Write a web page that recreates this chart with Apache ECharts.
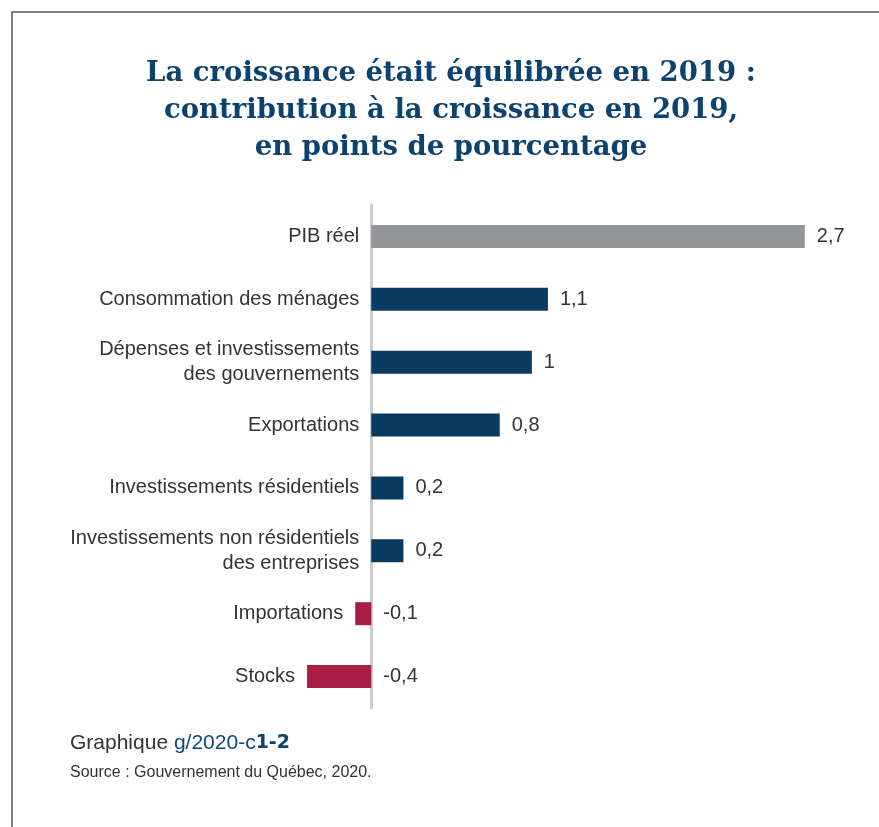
<!DOCTYPE html>
<html>
<head>
<meta charset="utf-8">
<script src="https://cdn.jsdelivr.net/npm/echarts@6/dist/echarts.min.js"></script>
<style>
html,body{margin:0;padding:0;background:#fff;}
#chart{width:879px;height:827px;}
</style>
</head>
<body>
<div id="chart"></div>
<script>
var titleLines = ['La croissance était équilibrée en 2019 :', 'contribution à la croissance en 2019,', 'en points de pourcentage'];
var categories = ['PIB réel', 'Consommation des ménages', 'Dépenses et investissements\ndes gouvernements', 'Exportations', 'Investissements résidentiels', 'Investissements non résidentiels\ndes entreprises', 'Importations', 'Stocks'];
var values = [2.7, 1.1, 1, 0.8, 0.2, 0.2, -0.1, -0.4];
var footerLabel = 'Graphique ';
var footerCode = 'g/2020-c';
var footerNum = '1-2';
var sourceText = 'Source : Gouvernement du Québec, 2020.';

var chart = echarts.init(document.getElementById('chart'), null, {renderer: 'canvas'});
function fmt(v){ return String(v).replace('.', ','); }
function barColor(p){
  if (p.dataIndex === 0) return '#939598';
  return p.value < 0 ? '#a91e44' : '#0a3a5f';
}
var option = {
  animation: false,
  backgroundColor: '#fff',
  grid: {left: 291, right: 26, top: 205, bottom: 119, containLabel: false},
  xAxis: {
    type: 'value', min: -0.5, max: 3,
    axisLabel: {show: false}, axisTick: {show: false}, axisLine: {show: false}, splitLine: {show: false}
  },
  yAxis: {
    type: 'category', data: categories, inverse: true,
    axisLabel: {show: false}, axisTick: {show: false},
    axisLine: {show: true, onZero: true, lineStyle: {color: '#cccccc', width: 3}}
  },
  series: [
    {
      type: 'bar', data: values, barWidth: 23, z: 1,
      itemStyle: {color: barColor},
      label: {
        show: true, position: 'right', distance: 12,
        fontFamily: 'Liberation Sans', fontSize: 20, color: '#333',
        formatter: function(p){ return fmt(p.value); }
      }
    },
    {
      type: 'bar', data: values, barWidth: 23, barGap: '-100%', z: 0,
      itemStyle: {color: 'rgba(0,0,0,0)'},
      label: {
        show: true, position: 'left', distance: 12,
        fontFamily: 'Liberation Sans', fontSize: 20, color: '#333', align: 'right', lineHeight: 25,
        formatter: function(p){ return categories[p.dataIndex]; }
      }
    }
  ],
  graphic: [
    {type: 'rect', shape: {x: 12, y: 12, width: 900, height: 900}, style: {fill: 'none', stroke: '#555', lineWidth: 1.5}, silent: true},
    {type: 'text', x: 451, y: 74, style: {text: titleLines[0], font: 'bold 27.5px "DejaVu Serif"', fill: '#0d426e', align: 'center', verticalAlign: 'middle'}},
    {type: 'text', x: 451, y: 111, style: {text: titleLines[1], font: 'bold 27.5px "DejaVu Serif"', fill: '#0d426e', align: 'center', verticalAlign: 'middle'}},
    {type: 'text', x: 451, y: 148, style: {text: titleLines[2], font: 'bold 27.5px "DejaVu Serif"', fill: '#0d426e', align: 'center', verticalAlign: 'middle'}},
    {type: 'text', x: 70, y: 743, style: {
      text: '{a|' + footerLabel + '}{b|' + footerCode + '}{c|' + footerNum + '}',
      verticalAlign: 'middle',
      rich: {
        a: {fontFamily: 'Liberation Sans', fontSize: 21, fill: '#333'},
        b: {fontFamily: 'Liberation Sans', fontSize: 21, fill: '#0d4a7a'},
        c: {fontFamily: 'DejaVu Sans', fontWeight: 'bold', fontSize: 19, fill: '#0d426e'}
      }
    }},
    {type: 'text', x: 70, y: 773, style: {text: sourceText, font: '16px "Liberation Sans"', fill: '#333', verticalAlign: 'middle'}}
  ]
};
chart.setOption(option);
</script>
</body>
</html>
